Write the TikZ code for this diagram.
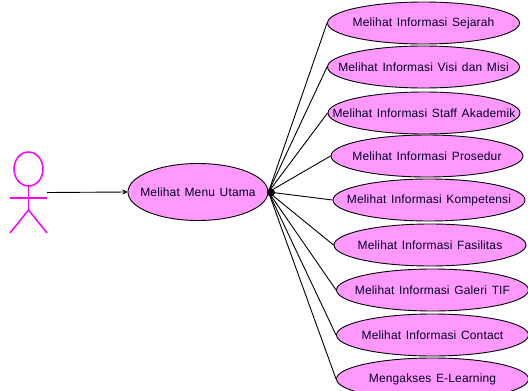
\documentclass[tikz,border=0pt]{standalone}
\usepackage{fontspec}
\setmainfont[WordSpace=1.35,LetterSpace=1.2]{Liberation Sans}
\tikzset{
  x=1pt,y=-1pt,
  usecase/.style={ellipse,draw=black,fill=caseFill,line width=0.9pt,inner sep=0pt,font=\fontsize{12}{13}\selectfont,text=black!85!blue},
  link/.style={draw=black,line width=0.9pt},
  actorline/.style={draw=actorColor,line width=1.5pt},
}
\usetikzlibrary{shapes.geometric,arrows.meta}
\definecolor{caseFill}{HTML}{FF99FF}
\definecolor{actorColor}{HTML}{FF00FF}
\newcommand{\ucase}[6]{\node[usecase,minimum width=#4pt,minimum height=#5pt] (#1) at (#2,#3) {\raisebox{-1pt}{\makebox[0pt]{#6}}};}
\begin{document}
\begin{tikzpicture}
\useasboundingbox (0,0) rectangle (528,391);
\clip (0,0) rectangle (528,391);
\fill[white] (0,0) rectangle (528,391);
\ucase{main}{198}{192}{140}{57}{Melihat Menu Utama}
\ucase{a}{423.5}{23}{192}{42}{Melihat Informasi Sejarah}
\ucase{b}{423.5}{67}{192}{42}{Melihat Informasi Visi dan Misi}
\ucase{c}{424}{113}{192}{42}{Melihat Informasi Staff Akademik}
\ucase{d}{427}{156}{192}{42}{Melihat Informasi Prosedur}
\ucase{e}{429}{200}{192}{42}{Melihat Informasi Kompetensi}
\ucase{f}{430}{245}{192}{42}{Melihat Informasi Fasilitas}
\ucase{g}{432.5}{290}{192}{42}{Melihat Informasi Galeri TIF}
\ucase{h}{432.5}{335}{192}{42}{Melihat Informasi Contact}
\ucase{i}{432.5}{379}{192}{42}{Mengakses E-Learning}
\coordinate (hub) at (main.east);
\foreach \t in {a,b,c,d,e,f,g,h,i}{\draw[link] (hub) -- (\t.west);}
\fill[black] (271,192.5) circle (4);
\coordinate (actorhand) at (47,192.5);
\draw[link,-{Stealth[length=5pt,width=5pt]}] (actorhand) -- (main.west);
\draw[actorline] (28.5,169) ellipse (14.5 and 17);
\draw[actorline] (28.5,186) -- (28.5,210);
\draw[actorline] (10,198) -- (47,198);
\draw[actorline] (10,233) -- (28.5,210) -- (47,233);
\end{tikzpicture}
\end{document}
